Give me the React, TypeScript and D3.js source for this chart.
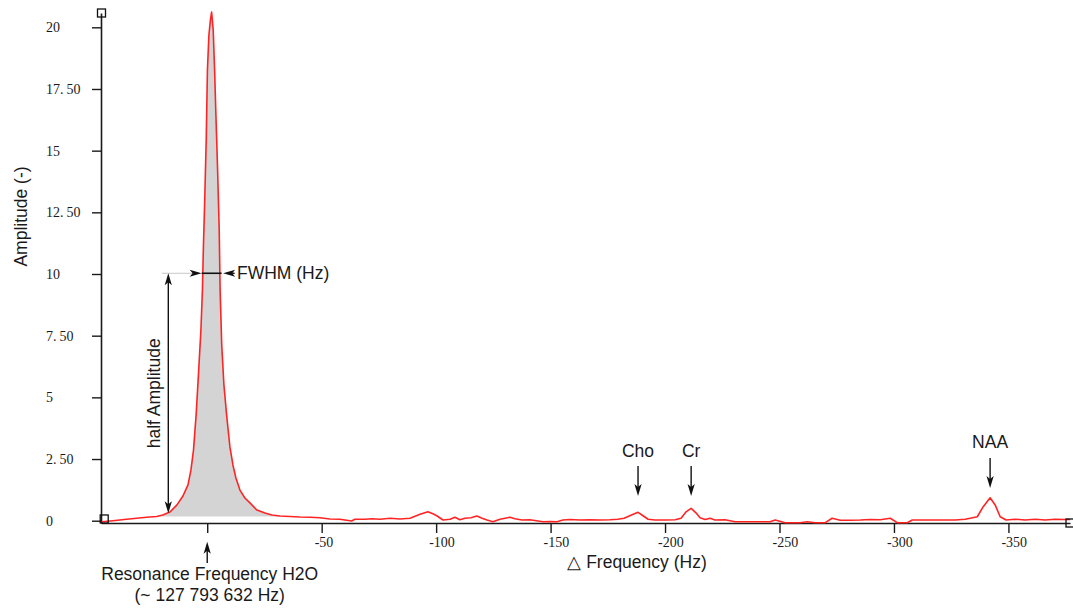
import React, { useEffect, useRef } from "react";
import * as d3 from "d3";

// spectrum (delta frequency in Hz, amplitude)
const freqHz = [
  46.1, 41.2, 35.2, 30.8, 26.5, 22.1, 19.4, 16.3, 13.2, 10.6, 8.4, 7.1, 6.0, 4.85, 3.84, 2.75, 2.1, 1.7, 1.09,
  0.44, -0.09, -0.74, -1.4, -1.92, -2.62, -3.23, -3.8, -4.54, -5.24, -5.64, -6.34, -7.3, -8.48, -9.92, -11.23,
  -12.54, -14.29, -16.47, -18.66, -21.72, -25.21, -28.27, -31.77, -36.1, -40.5, -44.9, -49.2, -53.6, -58.0,
  -63.1, -64.5, -68.9, -72.0, -75.5, -79.9, -84.2, -88.6, -93.0, -96.4, -98.6, -100.3, -103.0, -106.1, -108.2,
  -110.4, -112.6, -115.2, -117.8, -120.1, -122.2, -124.8, -127.9, -130.1, -132.3, -134.4, -137.5, -141.0,
  -146.7, -149.8, -152.8, -155.4, -158.5, -162.9, -167.2, -171.6, -176.0, -179.4, -182.1, -185.1, -188.2,
  -190.4, -192.6, -195.6, -200.0, -204.4, -207.0, -209.2, -211.4, -213.5, -215.3, -217.5, -219.7, -221.8,
  -226.2, -230.6, -237.2, -245.9, -248.1, -252.5, -259.0, -262.1, -265.6, -270.0, -273.0, -276.5, -280.9,
  -285.3, -289.6, -294.0, -298.4, -301.4, -305.8, -308.0, -313.6, -320.2, -326.7, -331.1, -333.3, -336.4,
  -339.0, -342.0, -344.2, -346.4, -349.0, -352.9, -357.3, -361.7, -366.0, -370.4, -374.8, -376.9,
];
const amplitude = [
  -0.04, 0.0, 0.06, 0.1, 0.14, 0.17, 0.23, 0.35, 0.64, 1.0, 1.45, 2.06, 2.86, 4.28, 5.91, 7.73, 9.34, 10.97, 13.0,
  15.43, 18.26, 19.69, 20.3, 20.62, 19.89, 18.26, 16.45, 14.21, 11.78, 9.34, 7.12, 5.5, 4.28, 2.99, 2.26,
  1.73, 1.24, 0.92, 0.72, 0.43, 0.31, 0.23, 0.19, 0.17, 0.15, 0.14, 0.12, 0.07, 0.06,
  -0.01, 0.06, 0.06, 0.08, 0.06, 0.1, 0.07, 0.1, 0.26, 0.36, 0.28, 0.2, 0.03, 0.06, 0.14,
  0.04, 0.1, 0.12, 0.19, 0.1, 0.03, -0.04, 0.06, 0.1, 0.14, 0.08, 0.03, 0.04,
  -0.04, -0.03, -0.04, 0.03, 0.05, 0.03, 0.04, 0.03, 0.04, 0.06, 0.1, 0.22, 0.34,
  0.2, 0.06, 0.03, 0.03, 0.04, 0.1, 0.36, 0.5, 0.32, 0.12, 0.05, 0.1, 0.03,
  0.04, -0.04, -0.04, -0.04, 0.03, -0.08, -0.08, -0.04, -0.08, -0.08, 0.1, 0.02, 0.02,
  0.03, 0.05, 0.04, 0.1, -0.08, -0.08, 0.03, 0.03, 0.03, 0.03, 0.06, 0.1, 0.16,
  0.57, 0.93, 0.64, 0.16, 0.03, 0.06, 0.03, 0.06, 0.03, 0.06, 0.05, 0.05,
];

const yTickValues = [0, 2.5, 5, 7.5, 10, 12.5, 15, 17.5, 20];
const yTickLabels = ["0", "2.50", "5", "7.50", "10", "12.50", "15", "17.50", "20"];
const xTickValues = [0, -50, -100, -150, -200, -250, -300, -350];
const xTickLabels = ["", "-50", "-100", "-150", "-200", "-250", "-300", "-350"];

const peakNames = ["Cho", "Cr", "NAA"];
const peakHz = [-188.2, -211.4, -342.0];
const peakArrowTip = [1.0, 1.0, 1.33];

// water peak annotation
const fwhmLevel = 10.03;
const fwhmLeftHz = 2.45;
const fwhmRightHz = -6.3;
const guideStartHz = 19.8;
const halfArrowHz = 17.0;
const halfArrowBottom = 0.3;
const fillBase = 0.17;

const AXIS = "#1a1a1a";
const RED = "#ff2424";
const SANS = "'Liberation Sans', Arial, sans-serif";
const SERIF = "'Liberation Serif', 'Times New Roman', serif";

const App = () => {
  const svgRef = useRef<SVGSVGElement>(null);

  useEffect(() => {
    const svg = d3.select(svgRef.current);
    svg.selectAll("*").remove();

    const x = d3.scaleLinear().domain([46.4, -376.9]).range([101, 1070]);
    const y = d3.scaleLinear().domain([-0.093, 20.58]).range([523, 13]);
    const data = freqHz.map((f, i) => ({ f, a: amplitude[i] }));

    // y axis
    const gy = svg
      .append("g")
      .attr("transform", `translate(${x.range()[0]},0)`)
      .call(
        d3.axisLeft(y).tickValues(yTickValues).tickFormat((_, i) => yTickLabels[i]).tickSize(9).tickSizeOuter(0)
      );
    gy.attr("color", AXIS).attr("font-family", SERIF).attr("font-size", 14);
    gy.select(".domain").attr("stroke-width", 1.6);
    gy.selectAll(".tick line").attr("stroke-width", 1.4);
    gy.selectAll<SVGTextElement, number>(".tick text").each(function (_, i) {
      const t = d3.select(this);
      const parts = yTickLabels[i].split(".");
      t.attr("text-anchor", "start").attr("x", -55);
      if (parts.length > 1) {
        t.text(parts[0] + ".");
        t.append("tspan").attr("dx", 3).text(parts[1]);
      }
    });

    // x axis
    const gx = svg
      .append("g")
      .attr("transform", `translate(0,${y.range()[0]})`)
      .call(
        d3.axisBottom(x).tickValues(xTickValues).tickFormat((_, i) => xTickLabels[i]).tickSize(10).tickSizeOuter(0).tickPadding(4)
      );
    gx.attr("color", AXIS).attr("font-family", SERIF).attr("font-size", 14);
    gx.select(".domain").attr("stroke-width", 1.6);
    gx.selectAll(".tick line").attr("stroke-width", 1.4);
    gx.selectAll(".tick text").attr("text-anchor", "start").attr("x", -7.5);

    // grey area under water peak
    const fillData = data.filter((d) => d.f <= 22.1 && d.f >= -31.8);
    svg
      .append("path")
      .datum(fillData)
      .attr(
        "d",
        d3
          .area<{ f: number; a: number }>()
          .x((d) => x(d.f))
          .y0(y(fillBase))
          .y1((d) => y(Math.max(d.a, fillBase)))
      )
      .attr("fill", "#d4d4d4");

    // spectrum line
    svg
      .append("path")
      .datum(data)
      .attr(
        "d",
        d3
          .line<{ f: number; a: number }>()
          .x((d) => x(d.f))
          .y((d) => y(d.a))
      )
      .attr("fill", "none")
      .attr("stroke", RED)
      .attr("stroke-width", 1.6)
      .attr("stroke-linejoin", "round");

    const arrowHead = (tx: number, ty: number, angle: number) => {
      svg
        .append("path")
        .attr("d", "M0,0 L-12,-3.6 L-9,0 L-12,3.6 Z")
        .attr("transform", `translate(${tx},${ty}) rotate(${angle})`)
        .attr("fill", "#111");
    };
    const seg = (x1: number, y1: number, x2: number, y2: number, color = "#111", w = 1.4) => {
      svg
        .append("line")
        .attr("x1", x1)
        .attr("y1", y1)
        .attr("x2", x2)
        .attr("y2", y2)
        .attr("stroke", color)
        .attr("stroke-width", w);
    };
    const label = (tx: number, ty: number, text: string, anchor = "middle", rotate = 0) => {
      const t = svg
        .append("text")
        .attr("font-family", SANS)
        .attr("font-size", 17.5)
        .attr("fill", "#1a1a1a")
        .attr("text-anchor", anchor)
        .text(text);
      if (rotate) t.attr("transform", `translate(${tx},${ty}) rotate(${rotate})`).attr("dy", "0.35em");
      else t.attr("x", tx).attr("y", ty);
    };

    // FWHM
    const fy = y(fwhmLevel);
    seg(x(guideStartHz), fy, x(fwhmLeftHz) - 8, fy, "#c8c8c8", 1);
    seg(x(fwhmLeftHz), fy, x(fwhmRightHz), fy, "#111", 1.6);
    arrowHead(x(fwhmLeftHz), fy, 0);
    arrowHead(x(fwhmRightHz) + 1.5, fy, 180);
    seg(x(fwhmRightHz) + 10, fy, x(fwhmRightHz) + 13, fy, "#111", 1.4);
    label(237, fy + 6, "FWHM (Hz)", "start");

    // half amplitude double arrow
    const hx = x(halfArrowHz);
    seg(hx, fy + 8, hx, y(halfArrowBottom) - 8);
    arrowHead(hx, fy, -90);
    arrowHead(hx, y(halfArrowBottom), 90);
    label(hx - 14.5, (fy + y(halfArrowBottom)) / 2, "half Amplitude", "middle", -90);

    // metabolite peaks
    peakNames.forEach((name, i) => {
      const px = x(peakHz[i]);
      const tip = y(peakArrowTip[i]);
      seg(px, tip - 30, px, tip - 8);
      arrowHead(px, tip, 90);
      label(px, tip - 39.5, name);
    });

    // resonance frequency
    const rx = x(0);
    const axisY = y.range()[0];
    seg(rx, axisY + 40, rx, axisY + 24);
    arrowHead(rx, axisY + 18.7, -90);
    label(rx + 2.5, axisY + 57, "Resonance Frequency H2O");
    label(rx + 2.5, axisY + 78, "(~ 127 793 632 Hz)");

    // axis titles
    label(637, axisY + 45, "\u25B3 Frequency (Hz)");
    label(21, 216.5, "Amplitude (-)", "middle", -90);

    // end handles
    const handles = [
      [x.range()[0] + 0.5, y.range()[1]],
      [x(45), y(0.07)],
      [x.range()[1], y.range()[0]],
    ];
    svg
      .selectAll("rect.handle")
      .data(handles)
      .join("rect")
      .attr("class", "handle")
      .attr("x", (d) => d[0] - 4)
      .attr("y", (d) => d[1] - 4)
      .attr("width", 8)
      .attr("height", 8)
      .attr("fill", "none")
      .attr("stroke", "#111")
      .attr("stroke-width", 1.3);
  }, []);

  return (
    <svg
      ref={svgRef}
      width={1073}
      height={609}
      style={{ position: "absolute", left: 0, top: 0, background: "#fff", display: "block" }}
    />
  );
};

export default App;
